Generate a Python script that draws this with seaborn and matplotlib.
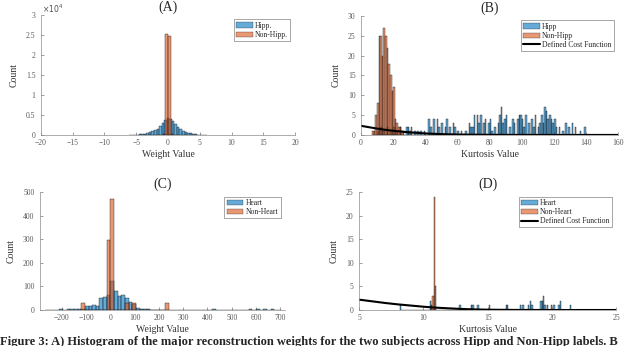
import numpy as np
import pandas as pd
import matplotlib
matplotlib.use("Agg")
import matplotlib.pyplot as plt
import seaborn as sns
from matplotlib.patches import Patch
from matplotlib.lines import Line2D
from matplotlib.ticker import FuncFormatter

# ---- (A) weight values, hippocampus vs non-hippocampus (bin centres / counts)
a_hipp_x = [-6.0, -5.6, -5.2, -4.8, -4.4, -4.0, -3.6, -3.2, -2.8, -2.4, -2.0, -1.6,
            -1.2, -0.8, -0.4, 0.0, 0.4, 0.8, 1.2, 1.6, 2.0, 2.4, 2.8, 3.2, 3.6,
            4.0, 4.4, 4.8, 5.2, 5.6, 6.0]
a_hipp_n = [10, 20, 40, 70, 120, 200, 300, 450, 650, 900, 1200, 1600,
            2200, 2900, 3700, 4200, 4000, 3400, 2700, 2000, 1500, 1100, 800, 550, 380,
            250, 160, 100, 60, 30, 15]
a_non_x = [-0.6, -0.2, 0.2, 0.6]
a_non_n = [300, 25200, 24700, 200]

# ---- (B) kurtosis values, hipp vs non-hipp
b_hipp_x = [10.5, 12.5, 14.5, 16.5, 18.5, 20.5, 22.5, 24.5, 26.5, 28.5, 29.5, 30.5, 31.5,
            33.5, 35.5, 37.5, 39.5, 42.5, 43.5, 45.5, 47.5, 48.5, 50.5, 52.5, 53.5, 55.5,
            57.5, 58.5, 60.5, 62.5, 65.5, 67.5, 68.5, 69.5, 70.5, 72.5, 73.5, 74.5, 76.5,
            77.5, 79.5, 80.5, 81.5, 83.5, 85.5, 86.5, 87.5, 88.5, 89.5, 90.5, 92.5, 94.5,
            95.5, 97.5, 98.5, 99.5, 100.5, 101.5, 102.5, 104.5, 106.5, 107.5, 108.5, 110.5,
            111.5, 112.5, 113.5, 114.5, 115.5, 116.5, 117.5, 118.5, 119.5, 120.5, 121.5,
            123.5, 125.5, 127.5, 129.5, 131.5, 133.5, 136.5, 139.5]
b_hipp_n = [1, 2, 1, 2, 1, 2, 1, 2, 1, 2, 2, 1, 2,
            1, 1, 1, 1, 4, 2, 4, 4, 2, 3, 2, 4, 2,
            3, 2, 1, 1, 1, 3, 2, 2, 5, 5, 3, 5, 3,
            4, 3, 4, 1, 2, 3, 5, 7, 3, 4, 5, 2, 4,
            3, 4, 5, 5, 4, 2, 5, 3, 4, 2, 5, 2,
            3, 5, 3, 7, 6, 4, 5, 4, 3, 4, 2,
            2, 1, 3, 2, 3, 2, 1, 2]
b_non_x = [7.5, 8.5, 9.5, 10.5, 11.5, 12.5, 13.5, 14.5, 15.5, 16.5, 17.5, 18.5, 19.5,
           20.5, 21.5, 22.5, 23.5, 24.5, 25.5]
b_non_n = [1, 1, 5, 8, 25, 25, 20, 27, 25, 22, 18, 15, 11,
           12, 4, 3, 2, 2, 1]
b_cost_x = [0, 5, 10, 15, 20, 25, 30, 40, 50, 60, 80, 100, 120, 140, 160]
b_cost_y = [2.3, 1.95, 1.6, 1.3, 1.05, 0.85, 0.65, 0.38, 0.2, 0.1, 0.03, 0.01, 0.0, 0.0, 0.0]

# ---- (C) weight values, heart vs non-heart
c_heart_x = [-262.5, -232.5, -202.5, -172.5, -157.5, -142.5, -127.5, -112.5, -97.5,
             -82.5, -67.5, -52.5, -37.5, -22.5, -7.5, 7.5, 22.5, 37.5, 52.5, 67.5,
             82.5, 97.5, 112.5, 127.5, 142.5, 157.5, 187.5, 292.5, 322.5, 397.5,
             427.5, 457.5, 517.5, 547.5, 577.5, 607.5, 637.5, 667.5, 697.5]
c_heart_n = [2, 2, 3, 4, 3, 5, 5, 6, 15,
             17, 22, 15, 50, 55, 65, 125, 80, 60, 65, 50,
             35, 25, 8, 5, 4, 3, 2, 2, 2, 1,
             3, 2, 1, 2, 3, 3, 4, 3, 2]
c_non_x = [-112.5, -7.5, 7.5, 67.5, 97.5, 232.5]
c_non_n = [30, 295, 470, 30, 30, 30]

# ---- (D) kurtosis values, heart vs non-heart
d_heart_x = [8.25, 10.55, 10.65, 12.85, 13.75, 13.85, 14.25, 15.15, 16.45, 16.55,
             17.55, 17.75, 18.15, 18.35, 18.45, 19.15, 19.25, 19.35, 19.45, 19.65,
             19.95, 20.15, 20.55, 20.65, 21.45]
d_heart_n = [1, 2, 1, 1, 1, 1, 1, 1, 1, 1,
             1, 1, 1, 2, 1, 2, 2, 3, 1, 1,
             1, 1, 1, 2, 1]
d_non_x = [10.75, 10.85, 10.95]
d_non_n = [3, 24, 5]
d_cost_x = [5, 6, 7, 8, 9, 10, 11, 12, 13, 14, 15, 17, 20, 25]
d_cost_y = [2.2, 1.85, 1.5, 1.2, 0.95, 0.7, 0.5, 0.35, 0.22, 0.13, 0.07, 0.02, 0.0, 0.0]

sns.set_style("ticks")
plt.rcParams['font.family'] = ['Liberation Serif', 'DejaVu Serif']

BLUE = '#0072BD'
ORANGE = '#D95319'

fig = plt.figure(figsize=(6.4, 3.46), dpi=100)
axA = fig.add_axes([0.064, 0.610, 0.397, 0.347])
axB = fig.add_axes([0.564, 0.610, 0.402, 0.344])
axC = fig.add_axes([0.0625, 0.104, 0.383, 0.341])
axD = fig.add_axes([0.561, 0.104, 0.402, 0.341])


def hist(ax, x, n, edges, color):
    df = pd.DataFrame({'v': x, 'n': n})
    sns.histplot(data=df, x='v', weights='n', bins=[float(e) for e in edges],
                 color=color, alpha=0.6, edgecolor='k', linewidth=0.25, ax=ax)


def style(ax, title, xlabel):
    ax.set_title(title, fontsize=10, pad=3)
    ax.set_xlabel(xlabel, fontsize=7, labelpad=2, color='0.2')
    ax.set_ylabel('Count', fontsize=7, labelpad=5, color='0.2')
    ax.tick_params(labelsize=5.5, length=2, width=0.4, direction='in',
                   colors='0.35')
    ax.tick_params(axis='y', pad=4)
    ax.tick_params(axis='x', pad=3)
    for s in ['top', 'right']:
        ax.spines[s].set_visible(False)
    for s in ['left', 'bottom']:
        ax.spines[s].set_linewidth(0.5)
        ax.spines[s].set_color('0.55')


def legend(ax, labels, cost=False):
    handles = [Patch(facecolor=BLUE, alpha=0.6, edgecolor='k', linewidth=0.3),
               Patch(facecolor=ORANGE, alpha=0.6, edgecolor='k', linewidth=0.3)]
    if cost:
        handles.append(Line2D([], [], color='k', lw=1.5))
    ax.legend(handles, labels, loc='upper right', fontsize=5.5, frameon=True,
              fancybox=False, edgecolor='0.4', framealpha=1, borderpad=0.3,
              labelspacing=0.15, handlelength=2.2, handletextpad=0.3,
              borderaxespad=0.6).get_frame().set_linewidth(0.4)


# (A)
hist(axA, a_hipp_x, a_hipp_n, np.arange(-6.2, 6.3, 0.4), BLUE)
hist(axA, a_non_x, a_non_n, np.arange(-0.8, 0.9, 0.4), ORANGE)
axA.set_xlim(-20, 20)
axA.set_ylim(0, 30000)
axA.set_xticks(range(-20, 21, 5))
axA.set_yticks(np.arange(0, 30001, 5000))
axA.yaxis.set_major_formatter(FuncFormatter(lambda v, p: '%g' % (v / 1e4)))
axA.text(0.005, 1.0, r'$\times10^4$', transform=axA.transAxes, fontsize=5.5,
         color='0.3', va='bottom', ha='left')
style(axA, '(A)', 'Weight Value')
legend(axA, ['Hipp.', 'Non-Hipp.'])

# (B)
hist(axB, b_hipp_x, b_hipp_n, np.arange(10, 141, 1), BLUE)
hist(axB, b_non_x, b_non_n, np.arange(7, 27, 1), ORANGE)
sns.lineplot(x=b_cost_x, y=b_cost_y, color='k', lw=1.5, ax=axB)
axB.set_xlim(0, 160)
axB.set_ylim(0, 30)
axB.set_xticks(range(0, 161, 20))
axB.set_yticks(range(0, 31, 5))
style(axB, '(B)', 'Kurtosis Value')
legend(axB, ['Hipp', 'Non-Hipp', 'Defined Cost Function'], cost=True)

# (C)
hist(axC, c_heart_x, c_heart_n, np.arange(-270, 706, 15), BLUE)
hist(axC, c_non_x, c_non_n, np.arange(-120, 241, 15), ORANGE)
axC.set_xlim(-290, 720)
axC.set_ylim(0, 500)
axC.set_xticks(range(-200, 701, 100))
axC.set_yticks(range(0, 501, 100))
style(axC, '(C)', 'Weight Value')
legend(axC, ['Heart', 'Non-Heart'])

# (D)
hist(axD, d_heart_x, d_heart_n, np.round(np.arange(8.2, 21.55, 0.1), 2), BLUE)
hist(axD, d_non_x, d_non_n, [10.7, 10.8, 10.9, 11.0], ORANGE)
sns.lineplot(x=d_cost_x, y=d_cost_y, color='k', lw=1.5, ax=axD)
axD.set_xlim(5, 25)
axD.set_ylim(0, 25)
axD.set_xticks(range(5, 26, 5))
axD.set_yticks(range(0, 26, 5))
style(axD, '(D)', 'Kurtosis Value')
legend(axD, ['Heart', 'Non-Heart', 'Defined Cost Function'], cost=True)

fig.text(0.0, 0.03, 'Figure 3: A) Histogram of the major reconstruction weights for the '
         'two subjects across Hipp and Non-Hipp labels. B',
         fontsize=9, fontweight='bold', va='top', ha='left')

fig.savefig('out.png', dpi=100)
